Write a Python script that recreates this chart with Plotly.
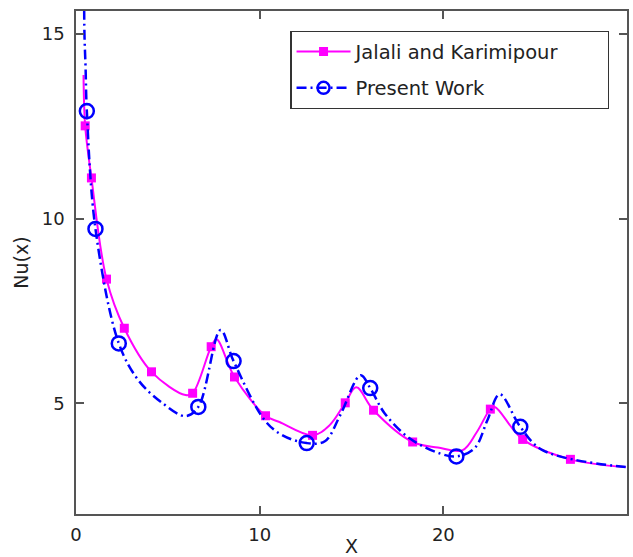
import plotly.graph_objects as go

# Jalali and Karimipour: curve points and marker points
jk_curve_x = [0.41, 0.50, 0.84, 1.66, 2.63, 4.11, 5.96, 6.35, 7.36, 7.65, 8.63, 10.32, 11.08, 12.88,
              13.8, 14.66, 15.26, 16.2, 18.33, 19.7, 21.05, 21.8, 22.56, 22.8, 24.32, 26.92, 29.93]
jk_curve_y = [13.89, 12.51, 11.10, 8.36, 7.03, 5.85, 5.22, 5.27, 6.53, 6.73, 5.71, 4.66, 4.49, 4.13,
              4.40, 5.01, 5.43, 4.81, 3.95, 3.80, 3.73, 4.20, 4.84, 4.90, 4.02, 3.48, 3.27]
jk_x = [0.50, 0.84, 1.66, 2.63, 4.11, 6.35, 7.36, 8.63, 10.32, 12.88, 14.66, 16.2, 18.33, 22.56, 24.32, 26.92]
jk_y = [12.51, 11.10, 8.36, 7.03, 5.85, 5.27, 6.53, 5.71, 4.66, 4.13, 5.01, 4.81, 3.95, 4.84, 4.02, 3.48]

# Present Work: curve points and marker points
pw_curve_x = [0.44, 0.46, 0.52, 0.59, 1.06, 2.33, 3.40, 4.71, 5.96, 6.66, 7.87, 8.58, 10.27, 11.25, 12.56,
              13.55, 14.38, 15.5, 16.02, 16.8, 18.16, 19.8, 20.71, 21.7, 22.4, 23.07, 24.19, 25.4, 29.93]
pw_curve_y = [16.2, 15.0, 14.11, 12.91, 9.72, 6.62, 5.62, 5.00, 4.65, 4.90, 6.98, 6.14, 4.54, 4.13, 3.92,
              3.97, 4.67, 5.76, 5.41, 4.73, 4.05, 3.64, 3.56, 3.78, 4.54, 5.24, 4.36, 3.73, 3.27]
pw_x = [0.59, 1.06, 2.33, 6.66, 8.58, 12.56, 16.02, 20.71, 24.19]
pw_y = [12.91, 9.72, 6.62, 4.90, 6.14, 3.92, 5.41, 3.56, 4.36]

x_ticks = [0, 10, 20]
y_ticks = [5, 10, 15]
series_names = ["Jalali and Karimipour", "Present Work"]

MAG = "#ff00ff"
BLU = "#0000ff"
DASH = "10px,4px,2px,4px"
PAD = "\u00a0" * 7

fig = go.Figure()
fig.add_trace(go.Scatter(x=jk_curve_x, y=jk_curve_y, mode="lines", line=dict(color=MAG, width=2, shape="spline", smoothing=1.0),
                         showlegend=False, hoverinfo="skip"))
fig.add_trace(go.Scatter(x=jk_x, y=jk_y, mode="markers", marker=dict(symbol="square", size=9, color=MAG),
                         showlegend=False))
fig.add_trace(go.Scatter(x=pw_curve_x, y=pw_curve_y, mode="lines", line=dict(color=BLU, width=2.5, dash=DASH, shape="spline", smoothing=1.0),
                         showlegend=False, hoverinfo="skip"))
fig.add_trace(go.Scatter(x=pw_x, y=pw_y, mode="markers",
                         marker=dict(symbol="circle-open", size=14, color=BLU, line=dict(width=2.5, color=BLU)),
                         showlegend=False))
# legend entries
fig.add_trace(go.Scatter(x=[None], y=[None], mode="lines+markers", name=series_names[0] + PAD, legendgroup="a",
                         line=dict(color=MAG, width=2), marker=dict(symbol="square", size=9, color=MAG)))
fig.add_trace(go.Scatter(x=[None], y=[None], mode="lines+markers", name=series_names[1], legendgroup="b",
                         line=dict(color=BLU, width=2.5, dash=DASH),
                         marker=dict(symbol="circle-open", size=12, color=BLU, line=dict(width=2.5, color=BLU))))

axis_common = dict(showgrid=False, zeroline=False, showline=True, linecolor="#555555", linewidth=1.5,
                   mirror="ticks", ticks="inside", ticklen=8, tickwidth=1.5, tickcolor="#555555",
                   automargin=False,
                   tickfont=dict(family="DejaVu Sans", size=18, color="#222222"))

fig.update_layout(
    width=633, height=557,
    margin=dict(l=76, r=6, t=11, b=43),
    plot_bgcolor="white", paper_bgcolor="white",
    font=dict(family="DejaVu Sans", size=18, color="#222222"),
    xaxis=dict(range=[0, 30], tickvals=x_ticks, title=dict(text="X", standoff=1, font=dict(size=19)),
               ticklabelstandoff=4, **axis_common),
    yaxis=dict(range=[2, 15.62], tickvals=y_ticks, title=dict(text="Nu(x)", standoff=8, font=dict(size=19)),
               ticklabelstandoff=6, **axis_common),
    legend=dict(x=0.389, y=0.96, xanchor="left", yanchor="top", bordercolor="#333333", borderwidth=1.2,
                bgcolor="white", font=dict(family="DejaVu Sans", size=19.5, color="#222222"),
                itemwidth=54, tracegroupgap=8),
)

fig.write_html("out.html")
